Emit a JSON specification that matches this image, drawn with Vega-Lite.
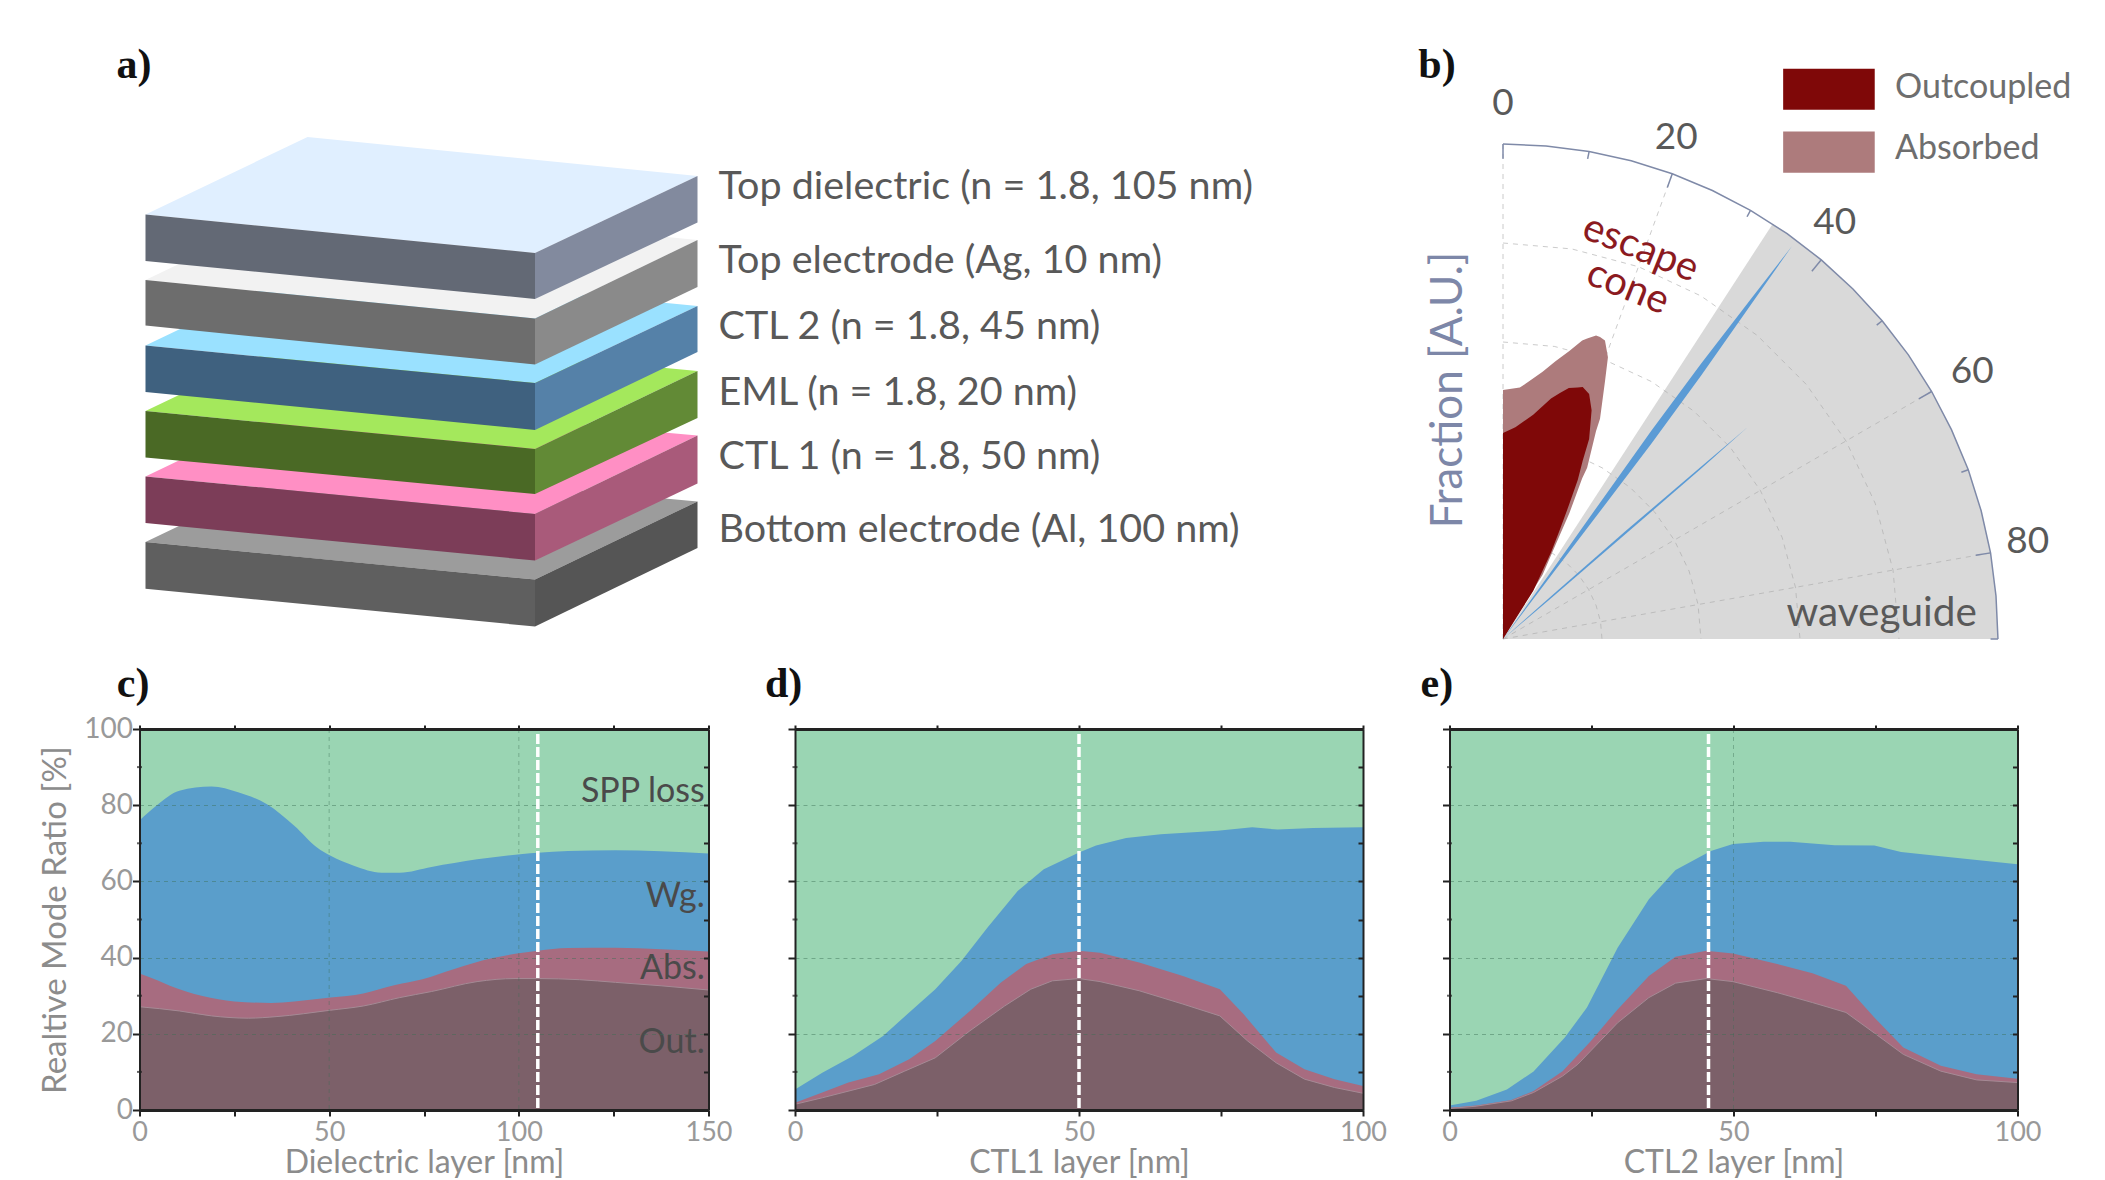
{
  "$schema": "https://vega.github.io/schema/vega-lite/v6.json",
  "background": "white",
  "padding": {"left": 39.5, "top": 0, "right": 0, "bottom": 0},
  "spacing": 3,
  "config": {"view": {"stroke": null}, "text": {"font": "Lato"}},
  "resolve": {"scale": {"color": "independent"}},
  "datasets": {
    "faces": [
      {"face":"bottom top","x":146,"upper":542,"lower":542},{"face":"bottom top","x":308,"upper":464.5,"lower":557.7},{"face":"bottom top","x":535.5,"upper":486.6,"lower":579.6},{"face":"bottom top","x":698,"upper":501.4,"lower":501.4},
      {"face":"bottom left","x":146,"upper":542,"lower":588.7},{"face":"bottom left","x":535.5,"upper":579.6,"lower":626.5},
      {"face":"bottom right","x":535.5,"upper":579.6,"lower":626.5},{"face":"bottom right","x":698,"upper":501.4,"lower":548},
      {"face":"ctl1 top","x":146,"upper":476.4,"lower":476.4},{"face":"ctl1 top","x":308,"upper":399,"lower":492},{"face":"ctl1 top","x":535.5,"upper":420.9,"lower":514},{"face":"ctl1 top","x":698,"upper":435.5,"lower":435.5},
      {"face":"ctl1 left","x":146,"upper":476.4,"lower":523},{"face":"ctl1 left","x":535.5,"upper":514,"lower":560.5},
      {"face":"ctl1 right","x":535.5,"upper":514,"lower":560.5},{"face":"ctl1 right","x":698,"upper":435.5,"lower":483.6},
      {"face":"eml top","x":146,"upper":411,"lower":411},{"face":"eml top","x":308,"upper":333.5,"lower":426.8},{"face":"eml top","x":535.5,"upper":355.7,"lower":449},{"face":"eml top","x":698,"upper":371,"lower":371},
      {"face":"eml left","x":146,"upper":411,"lower":457.4},{"face":"eml left","x":535.5,"upper":449,"lower":494},
      {"face":"eml right","x":535.5,"upper":449,"lower":494},{"face":"eml right","x":698,"upper":371,"lower":418},
      {"face":"ctl2 top","x":146,"upper":345.5,"lower":345.5},{"face":"ctl2 top","x":308,"upper":268,"lower":361.1},{"face":"ctl2 top","x":535.5,"upper":290.2,"lower":383},{"face":"ctl2 top","x":698,"upper":306,"lower":306},
      {"face":"ctl2 left","x":146,"upper":345.5,"lower":392},{"face":"ctl2 left","x":535.5,"upper":383,"lower":430},
      {"face":"ctl2 right","x":535.5,"upper":383,"lower":430},{"face":"ctl2 right","x":698,"upper":306,"lower":352},
      {"face":"electrode top","x":146,"upper":280,"lower":280},{"face":"electrode top","x":308,"upper":202.5,"lower":296},{"face":"electrode top","x":535.5,"upper":224.1,"lower":318.5},{"face":"electrode top","x":698,"upper":240,"lower":240},
      {"face":"electrode left","x":146,"upper":280,"lower":325.6},{"face":"electrode left","x":535.5,"upper":318.5,"lower":364.5},
      {"face":"electrode right","x":535.5,"upper":318.5,"lower":364.5},{"face":"electrode right","x":698,"upper":240,"lower":287},
      {"face":"dielectric top","x":146,"upper":214.5,"lower":214.5},{"face":"dielectric top","x":308,"upper":137,"lower":230.5},{"face":"dielectric top","x":535.5,"upper":159.8,"lower":253},{"face":"dielectric top","x":698,"upper":176,"lower":176},
      {"face":"dielectric left","x":146,"upper":214.5,"lower":261},{"face":"dielectric left","x":535.5,"upper":253,"lower":299},
      {"face":"dielectric right","x":535.5,"upper":253,"lower":299},{"face":"dielectric right","x":698,"upper":176,"lower":222.5}
    ],
    "stackLabels": [
      {"label":"Top dielectric (n = 1.8, 105 nm)","x":719,"y":187},
      {"label":"Top electrode (Ag, 10 nm)","x":719,"y":261},
      {"label":"CTL 2 (n = 1.8, 45 nm)","x":719,"y":327},
      {"label":"EML (n = 1.8, 20 nm)","x":719,"y":393},
      {"label":"CTL 1 (n = 1.8, 50 nm)","x":719,"y":457},
      {"label":"Bottom electrode (Al, 100 nm)","x":719,"y":530}
    ],
    "waveguide": [
      {"x":0,"y":0},{"x":0.545,"y":0.839},{"x":0.574,"y":0.819},{"x":0.643,"y":0.766},{"x":0.707,"y":0.707},{"x":0.766,"y":0.643},{"x":0.819,"y":0.574},{"x":0.866,"y":0.5},{"x":0.906,"y":0.423},{"x":0.94,"y":0.342},{"x":0.966,"y":0.259},{"x":0.985,"y":0.174},{"x":0.996,"y":0.087},{"x":1,"y":0}
    ],
    "rings": [
      {"r":0.2,"x":0,"y":0.2},{"r":0.2,"x":0.035,"y":0.197},{"r":0.2,"x":0.068,"y":0.188},{"r":0.2,"x":0.1,"y":0.173},{"r":0.2,"x":0.129,"y":0.153},{"r":0.2,"x":0.153,"y":0.129},{"r":0.2,"x":0.173,"y":0.1},{"r":0.2,"x":0.188,"y":0.068},{"r":0.2,"x":0.197,"y":0.035},{"r":0.2,"x":0.2,"y":0},
      {"r":0.4,"x":0,"y":0.4},{"r":0.4,"x":0.07,"y":0.394},{"r":0.4,"x":0.137,"y":0.376},{"r":0.4,"x":0.2,"y":0.346},{"r":0.4,"x":0.257,"y":0.306},{"r":0.4,"x":0.306,"y":0.257},{"r":0.4,"x":0.346,"y":0.2},{"r":0.4,"x":0.376,"y":0.137},{"r":0.4,"x":0.394,"y":0.07},{"r":0.4,"x":0.4,"y":0},
      {"r":0.6,"x":0,"y":0.6},{"r":0.6,"x":0.104,"y":0.591},{"r":0.6,"x":0.205,"y":0.564},{"r":0.6,"x":0.3,"y":0.52},{"r":0.6,"x":0.386,"y":0.46},{"r":0.6,"x":0.46,"y":0.386},{"r":0.6,"x":0.52,"y":0.3},{"r":0.6,"x":0.564,"y":0.205},{"r":0.6,"x":0.591,"y":0.104},{"r":0.6,"x":0.6,"y":0},
      {"r":0.8,"x":0,"y":0.8},{"r":0.8,"x":0.139,"y":0.788},{"r":0.8,"x":0.274,"y":0.752},{"r":0.8,"x":0.4,"y":0.693},{"r":0.8,"x":0.514,"y":0.613},{"r":0.8,"x":0.613,"y":0.514},{"r":0.8,"x":0.693,"y":0.4},{"r":0.8,"x":0.752,"y":0.274},{"r":0.8,"x":0.788,"y":0.139},{"r":0.8,"x":0.8,"y":0}
    ],
    "spokes": [
      {"x":0,"y":0,"x2":0,"y2":1},{"x":0,"y":0,"x2":0.342,"y2":0.94},{"x":0,"y":0,"x2":0.866,"y2":0.5},{"x":0,"y":0,"x2":0.985,"y2":0.174}
    ],
    "rim": [
      {"x":0,"y":1},{"x":0.087,"y":0.996},{"x":0.174,"y":0.985},{"x":0.259,"y":0.966},{"x":0.342,"y":0.94},{"x":0.423,"y":0.906},{"x":0.5,"y":0.866},{"x":0.574,"y":0.819},{"x":0.643,"y":0.766},{"x":0.707,"y":0.707},{"x":0.766,"y":0.643},{"x":0.819,"y":0.574},{"x":0.866,"y":0.5},{"x":0.906,"y":0.423},{"x":0.94,"y":0.342},{"x":0.966,"y":0.259},{"x":0.985,"y":0.174},{"x":0.996,"y":0.087},{"x":1,"y":0}
    ],
    "rimTicks": [
      {"x":0,"y":1,"x2":0,"y2":0.97},
      {"x":0.174,"y":0.985,"x2":0.171,"y2":0.97},
      {"x":0.342,"y":0.94,"x2":0.332,"y2":0.912},
      {"x":0.5,"y":0.866,"x2":0.493,"y2":0.853},
      {"x":0.643,"y":0.766,"x2":0.624,"y2":0.743},
      {"x":0.766,"y":0.643,"x2":0.755,"y2":0.634},
      {"x":0.866,"y":0.5,"x2":0.84,"y2":0.485},
      {"x":0.94,"y":0.342,"x2":0.926,"y2":0.337},
      {"x":0.985,"y":0.174,"x2":0.955,"y2":0.169},
      {"x":1,"y":0,"x2":0.985,"y2":0}
    ],
    "absorbed": [
      {"x":0,"upper":0.503,"lower":0},{"x":0.034,"upper":0.508,"lower":0.056},{"x":0.052,"upper":0.52,"lower":0.085},{"x":0.08,"upper":0.54,"lower":0.13},{"x":0.106,"upper":0.561,"lower":0.19},{"x":0.134,"upper":0.582,"lower":0.254},{"x":0.16,"upper":0.603,"lower":0.325},{"x":0.17,"upper":0.607,"lower":0.346},{"x":0.188,"upper":0.613,"lower":0.42},{"x":0.196,"upper":0.61,"lower":0.445},{"x":0.206,"upper":0.603,"lower":0.52},{"x":0.212,"upper":0.569,"lower":0.569}
    ],
    "outcoupled": [
      {"x":0,"upper":0.416,"lower":0},{"x":0.025,"upper":0.428,"lower":0.04},{"x":0.061,"upper":0.453,"lower":0.097},{"x":0.097,"upper":0.486,"lower":0.175},{"x":0.115,"upper":0.497,"lower":0.221},{"x":0.133,"upper":0.507,"lower":0.27},{"x":0.151,"upper":0.508,"lower":0.321},{"x":0.161,"upper":0.509,"lower":0.36},{"x":0.174,"upper":0.495,"lower":0.404},{"x":0.179,"upper":0.462,"lower":0.462}
    ],
    "modeBlue": [
      {"mode":"strong","x":0,"upper":0,"lower":0},{"mode":"strong","x":0.1,"upper":0.14,"lower":0.132},{"mode":"strong","x":0.2,"upper":0.281,"lower":0.263},{"mode":"strong","x":0.3,"upper":0.421,"lower":0.395},{"mode":"strong","x":0.4,"upper":0.556,"lower":0.532},{"mode":"strong","x":0.5,"upper":0.686,"lower":0.674},{"mode":"strong","x":0.584,"upper":0.794,"lower":0.794},
      {"mode":"weak","x":0,"upper":0,"lower":0},{"mode":"weak","x":0.1,"upper":0.089,"lower":0.085},{"mode":"weak","x":0.25,"upper":0.22,"lower":0.214},{"mode":"weak","x":0.4,"upper":0.348,"lower":0.344},{"mode":"weak","x":0.494,"upper":0.428,"lower":0.428}
    ],
    "legendBoxes": [
      {"part":"Outcoupled","x":0.566,"x2":0.751,"y":1.152,"y2":1.069},
      {"part":"Absorbed","x":0.566,"x2":0.751,"y":1.025,"y2":0.942}
    ],
    "legendLabels": [
      {"label":"Outcoupled","x":0.792,"y":1.114},
      {"label":"Absorbed","x":0.792,"y":0.99}
    ],
    "angleLabels": [
      {"label":"0","x":0,"y":1.081},{"label":"20","x":0.35,"y":1.013},{"label":"40","x":0.67,"y":0.841},{"label":"60","x":0.948,"y":0.54},{"label":"80","x":1.06,"y":0.196}
    ],
    "c": [
      {"series":"spp","thickness":0,"ratio":100},{"series":"spp","thickness":150,"ratio":100},
      {"series":"wg","thickness":0,"ratio":76},{"series":"wg","thickness":4.5,"ratio":79.9},{"series":"wg","thickness":10.5,"ratio":83.8},{"series":"wg","thickness":19,"ratio":84.9},{"series":"wg","thickness":26,"ratio":83.4},{"series":"wg","thickness":33.5,"ratio":80.3},{"series":"wg","thickness":40.8,"ratio":74.6},{"series":"wg","thickness":46.8,"ratio":68.9},{"series":"wg","thickness":50.4,"ratio":66.7},{"series":"wg","thickness":56.5,"ratio":64.1},{"series":"wg","thickness":63.8,"ratio":62.3},{"series":"wg","thickness":68.6,"ratio":62.3},{"series":"wg","thickness":77,"ratio":63.8},{"series":"wg","thickness":89,"ratio":65.8},{"series":"wg","thickness":101,"ratio":67.2},{"series":"wg","thickness":105,"ratio":67.5},{"series":"wg","thickness":113,"ratio":68},{"series":"wg","thickness":125.5,"ratio":68.2},{"series":"wg","thickness":137.5,"ratio":67.9},{"series":"wg","thickness":150,"ratio":67.3},
      {"series":"abs","thickness":0,"ratio":35.8},{"series":"abs","thickness":5,"ratio":33.9},{"series":"abs","thickness":8,"ratio":32.6},{"series":"abs","thickness":16.6,"ratio":29.9},{"series":"abs","thickness":25,"ratio":28.5},{"series":"abs","thickness":34.7,"ratio":28.1},{"series":"abs","thickness":40.8,"ratio":28.5},{"series":"abs","thickness":50.4,"ratio":29.5},{"series":"abs","thickness":59,"ratio":30.6},{"series":"abs","thickness":67.4,"ratio":32.8},{"series":"abs","thickness":74.6,"ratio":34.3},{"series":"abs","thickness":83,"ratio":37},{"series":"abs","thickness":92.8,"ratio":39.8},{"series":"abs","thickness":101,"ratio":41.3},{"series":"abs","thickness":105,"ratio":41.8},{"series":"abs","thickness":113,"ratio":42.5},{"series":"abs","thickness":125.5,"ratio":42.6},{"series":"abs","thickness":137.5,"ratio":42.2},{"series":"abs","thickness":150,"ratio":41.6},
      {"series":"out","thickness":0,"ratio":27.1},{"series":"out","thickness":10.5,"ratio":26},{"series":"out","thickness":19,"ratio":24.7},{"series":"out","thickness":28.7,"ratio":24.1},{"series":"out","thickness":36,"ratio":24.5},{"series":"out","thickness":50.4,"ratio":26.2},{"series":"out","thickness":59,"ratio":27.3},{"series":"out","thickness":68.6,"ratio":29.5},{"series":"out","thickness":77,"ratio":31.1},{"series":"out","thickness":89,"ratio":33.7},{"series":"out","thickness":99,"ratio":34.5},{"series":"out","thickness":105,"ratio":34.5},{"series":"out","thickness":116,"ratio":34.2},{"series":"out","thickness":125.5,"ratio":33.5},{"series":"out","thickness":137.5,"ratio":32.6},{"series":"out","thickness":150,"ratio":31.5}
    ],
    "d": [
      {"series":"spp","thickness":0,"ratio":100},{"series":"spp","thickness":100,"ratio":100},
      {"series":"wg","thickness":0,"ratio":5.4},{"series":"wg","thickness":4.8,"ratio":9.8},{"series":"wg","thickness":10.2,"ratio":14.2},{"series":"wg","thickness":15.5,"ratio":19.4},{"series":"wg","thickness":20.1,"ratio":25.6},{"series":"wg","thickness":24.7,"ratio":31.7},{"series":"wg","thickness":29.3,"ratio":39.1},{"series":"wg","thickness":33.9,"ratio":47.9},{"series":"wg","thickness":39.2,"ratio":57.5},{"series":"wg","thickness":43.8,"ratio":63.2},{"series":"wg","thickness":50,"ratio":67.6},{"series":"wg","thickness":53,"ratio":69.4},{"series":"wg","thickness":58.3,"ratio":71.4},{"series":"wg","thickness":64.4,"ratio":72.4},{"series":"wg","thickness":74.4,"ratio":73.3},{"series":"wg","thickness":80.5,"ratio":74.2},{"series":"wg","thickness":85,"ratio":73.6},{"series":"wg","thickness":91.2,"ratio":74},{"series":"wg","thickness":100,"ratio":74.2},
      {"series":"abs","thickness":0,"ratio":1.9},{"series":"abs","thickness":4.8,"ratio":4.6},{"series":"abs","thickness":9.4,"ratio":7.2},{"series":"abs","thickness":14.8,"ratio":9.4},{"series":"abs","thickness":20.1,"ratio":13.3},{"series":"abs","thickness":24.7,"ratio":18.1},{"series":"abs","thickness":30.8,"ratio":26},{"series":"abs","thickness":36.2,"ratio":33.4},{"series":"abs","thickness":40.7,"ratio":38.3},{"series":"abs","thickness":45.3,"ratio":40.9},{"series":"abs","thickness":50,"ratio":41.8},{"series":"abs","thickness":53.7,"ratio":41.3},{"series":"abs","thickness":60.6,"ratio":38.7},{"series":"abs","thickness":68.3,"ratio":35.2},{"series":"abs","thickness":74.8,"ratio":31.7},{"series":"abs","thickness":79,"ratio":25.1},{"series":"abs","thickness":84.7,"ratio":15.1},{"series":"abs","thickness":89.7,"ratio":10.7},{"series":"abs","thickness":95,"ratio":8.1},{"series":"abs","thickness":100,"ratio":6.3},
      {"series":"out","thickness":0,"ratio":1.5},{"series":"out","thickness":4.8,"ratio":3.2},{"series":"out","thickness":14,"ratio":6.7},{"series":"out","thickness":19.3,"ratio":10.2},{"series":"out","thickness":24.7,"ratio":13.7},{"series":"out","thickness":30.8,"ratio":20.8},{"series":"out","thickness":36.9,"ratio":27.3},{"series":"out","thickness":41.5,"ratio":31.7},{"series":"out","thickness":45.3,"ratio":33.9},{"series":"out","thickness":50,"ratio":34.5},{"series":"out","thickness":53.7,"ratio":33.7},{"series":"out","thickness":60.6,"ratio":31.3},{"series":"out","thickness":68.3,"ratio":27.8},{"series":"out","thickness":74.8,"ratio":24.7},{"series":"out","thickness":79.7,"ratio":18.1},{"series":"out","thickness":84.7,"ratio":12.4},{"series":"out","thickness":89.7,"ratio":8.1},{"series":"out","thickness":95,"ratio":5.9},{"series":"out","thickness":100,"ratio":4.4}
    ],
    "e": [
      {"series":"spp","thickness":0,"ratio":100},{"series":"spp","thickness":100,"ratio":100},
      {"series":"wg","thickness":0,"ratio":1.2},{"series":"wg","thickness":4.7,"ratio":2.4},{"series":"wg","thickness":10.1,"ratio":5.4},{"series":"wg","thickness":14.8,"ratio":10.1},{"series":"wg","thickness":20.3,"ratio":19},{"series":"wg","thickness":24.2,"ratio":26.9},{"series":"wg","thickness":29.6,"ratio":42.6},{"series":"wg","thickness":35.1,"ratio":55.3},{"series":"wg","thickness":39.8,"ratio":63},{"series":"wg","thickness":46,"ratio":68},{"series":"wg","thickness":49.9,"ratio":69.8},{"series":"wg","thickness":55.3,"ratio":70.4},{"series":"wg","thickness":60,"ratio":70.4},{"series":"wg","thickness":67.8,"ratio":69.5},{"series":"wg","thickness":74.8,"ratio":69.4},{"series":"wg","thickness":79.5,"ratio":67.7},{"series":"wg","thickness":86.5,"ratio":66.6},{"series":"wg","thickness":100,"ratio":64.5},
      {"series":"abs","thickness":0,"ratio":0.6},{"series":"abs","thickness":4.7,"ratio":1.2},{"series":"abs","thickness":10.9,"ratio":2.6},{"series":"abs","thickness":14.8,"ratio":5},{"series":"abs","thickness":19.9,"ratio":10.2},{"series":"abs","thickness":24.9,"ratio":18.1},{"series":"abs","thickness":29.6,"ratio":26.4},{"series":"abs","thickness":35.1,"ratio":35.2},{"series":"abs","thickness":39.8,"ratio":40.2},{"series":"abs","thickness":45.2,"ratio":41.8},{"series":"abs","thickness":49.9,"ratio":41.1},{"series":"abs","thickness":57.7,"ratio":38.3},{"series":"abs","thickness":63.9,"ratio":35.9},{"series":"abs","thickness":69.8,"ratio":32.6},{"series":"abs","thickness":74.8,"ratio":24.3},{"series":"abs","thickness":79.9,"ratio":16.4},{"series":"abs","thickness":86.5,"ratio":11.6},{"series":"abs","thickness":92.8,"ratio":9.4},{"series":"abs","thickness":100,"ratio":8.2},
      {"series":"out","thickness":0,"ratio":0.4},{"series":"out","thickness":4.7,"ratio":1},{"series":"out","thickness":10.9,"ratio":2.4},{"series":"out","thickness":14.8,"ratio":4.6},{"series":"out","thickness":19.9,"ratio":8.9},{"series":"out","thickness":22.6,"ratio":12},{"series":"out","thickness":29.6,"ratio":22.9},{"series":"out","thickness":35.1,"ratio":29.5},{"series":"out","thickness":39.8,"ratio":33.3},{"series":"out","thickness":45.2,"ratio":34.5},{"series":"out","thickness":49.9,"ratio":33.7},{"series":"out","thickness":57.7,"ratio":30.8},{"series":"out","thickness":63.9,"ratio":28.2},{"series":"out","thickness":69.8,"ratio":25.6},{"series":"out","thickness":74.8,"ratio":20.2},{"series":"out","thickness":79.9,"ratio":14.6},{"series":"out","thickness":86.5,"ratio":10.2},{"series":"out","thickness":92.8,"ratio":7.9},{"series":"out","thickness":100,"ratio":7.2}
    ],
    "cNotes": [
      {"label":"SPP loss","thickness":149,"ratio":83.4},{"label":"Wg.","thickness":149,"ratio":55.8},{"label":"Abs.","thickness":149,"ratio":37},{"label":"Out.","thickness":149,"ratio":17.7}
    ],
    "minorY": [{"ratio":10},{"ratio":30},{"ratio":50},{"ratio":70},{"ratio":90}]
  },
  "vconcat": [
    {
      "bounds": "flush",
      "spacing": 0,
      "resolve": {"scale": {"color": "independent"}},
      "hconcat": [
        {
          "width": 1260,
          "height": 660,
          "layer": [
            {
              "data": {"name": "faces"},
              "mark": {"type": "area"},
              "encoding": {
                "x": {"field": "x", "type": "quantitative", "scale": {"domain": [140, 1400], "nice": false, "zero": false}, "axis": null},
                "y": {"field": "upper", "type": "quantitative", "scale": {"domain": [660, 0], "nice": false, "zero": false}, "axis": null},
                "y2": {"field": "lower"},
                "color": {
                  "field": "face",
                  "type": "nominal",
                  "legend": null,
                  "scale": {
                    "domain": ["bottom top","bottom left","bottom right","ctl1 top","ctl1 left","ctl1 right","eml top","eml left","eml right","ctl2 top","ctl2 left","ctl2 right","electrode top","electrode left","electrode right","dielectric top","dielectric left","dielectric right"],
                    "range": ["#9c9c9c","#5f5f5f","#555555","#ff8fc4","#7c3d58","#a95a7a","#a4e85c","#4a6925","#628a36","#9ae1ff","#3f617f","#5581a8","#f2f2f2","#6d6d6d","#8a8a8a","#e0efff","#636975","#828a9e"]
                  }
                }
              }
            },
            {
              "data": {"name": "stackLabels"},
              "mark": {"type": "text", "align": "left", "baseline": "middle", "fontSize": 39.5, "color": "#595959"},
              "encoding": {
                "x": {"field": "x", "type": "quantitative"},
                "y": {"field": "y", "type": "quantitative"},
                "text": {"field": "label"}
              }
            },
            {
              "data": {"values": [{"label": "a)", "x": 117, "y": 65}]},
              "mark": {"type": "text", "align": "left", "baseline": "middle", "font": "Liberation Serif", "fontWeight": "bold", "fontSize": 42, "color": "#111111"},
              "encoding": {
                "x": {"field": "x", "type": "quantitative"},
                "y": {"field": "y", "type": "quantitative"},
                "text": {"field": "label"}
              }
            }
          ]
        },
        {
          "width": 705,
          "height": 660,
          "encoding": {
            "x": {"field": "x", "type": "quantitative", "scale": {"domain": [-0.2091, 1.2152], "nice": false, "zero": false}, "axis": null},
            "y": {"field": "y", "type": "quantitative", "scale": {"domain": [-0.0424, 1.2909], "nice": false, "zero": false}, "axis": null}
          },
          "layer": [
            {"data": {"name": "waveguide"}, "mark": {"type": "area", "color": "#d9d9d9"}},
            {"data": {"name": "rings"}, "mark": {"type": "line", "color": "#a9a9a9", "strokeWidth": 1, "strokeDash": [5, 5], "opacity": 0.6}, "encoding": {"detail": {"field": "r"}}},
            {"data": {"name": "spokes"}, "mark": {"type": "rule", "color": "#a9a9a9", "strokeWidth": 1, "strokeDash": [5, 5], "opacity": 0.6}, "encoding": {"x2": {"field": "x2"}, "y2": {"field": "y2"}}},
            {"data": {"name": "absorbed"}, "mark": {"type": "area", "color": "#ad7b7c"}, "encoding": {"y": {"field": "upper", "type": "quantitative"}, "y2": {"field": "lower"}}},
            {"data": {"name": "outcoupled"}, "mark": {"type": "area", "color": "#7f0808"}, "encoding": {"y": {"field": "upper", "type": "quantitative"}, "y2": {"field": "lower"}}},
            {"data": {"name": "modeBlue"}, "mark": {"type": "area", "color": "#5b9bd5"}, "encoding": {"y": {"field": "upper", "type": "quantitative"}, "y2": {"field": "lower"}, "detail": {"field": "mode"}}},
            {"data": {"name": "rim"}, "mark": {"type": "line", "color": "#7f8aa8", "strokeWidth": 1.5}},
            {"data": {"name": "rimTicks"}, "mark": {"type": "rule", "color": "#7f8aa8", "strokeWidth": 1.5}, "encoding": {"x2": {"field": "x2"}, "y2": {"field": "y2"}}},
            {"data": {"name": "legendBoxes"}, "mark": {"type": "rect"}, "encoding": {"x2": {"field": "x2"}, "y2": {"field": "y2"}, "color": {"field": "part", "type": "nominal", "legend": null, "scale": {"domain": ["Outcoupled", "Absorbed"], "range": ["#7f0808", "#ad7b7c"]}}}},
            {"data": {"name": "legendLabels"}, "mark": {"type": "text", "align": "left", "baseline": "middle", "fontSize": 34, "color": "#6e6e6e"}, "encoding": {"text": {"field": "label"}}},
            {"data": {"name": "angleLabels"}, "mark": {"type": "text", "align": "center", "baseline": "middle", "fontSize": 37, "color": "#595959"}, "encoding": {"text": {"field": "label"}}},
            {"data": {"values": [{"label": "waveguide", "x": 0.765, "y": 0.051}]}, "mark": {"type": "text", "align": "center", "baseline": "middle", "fontSize": 40.5, "color": "#595959"}, "encoding": {"text": {"field": "label"}}},
            {"data": {"values": [{"label": "escape", "x": 0.278, "y": 0.789}, {"label": "cone", "x": 0.252, "y": 0.71}]}, "mark": {"type": "text", "align": "center", "baseline": "middle", "fontSize": 40, "angle": 22, "color": "#8b1a1f"}, "encoding": {"text": {"field": "label"}}},
            {"data": {"values": [{"label": "Fraction [A.U.]", "x": -0.11, "y": 0.503}]}, "mark": {"type": "text", "align": "center", "baseline": "middle", "fontSize": 44, "angle": 270, "color": "#7d87a8"}, "encoding": {"text": {"field": "label"}}},
            {"data": {"values": [{"label": "b)", "x": -0.171, "y": 1.16}]}, "mark": {"type": "text", "align": "left", "baseline": "middle", "font": "Liberation Serif", "fontWeight": "bold", "fontSize": 42, "color": "#111111"}, "encoding": {"text": {"field": "label"}}}
          ]
        }
      ]
    },
    {
      "bounds": "flush",
      "spacing": 86.5,
      "hconcat": [
        {
          "width": 569,
          "height": 381,
          "title": {"text": "c)", "anchor": "start", "font": "Liberation Serif", "fontWeight": "bold", "fontSize": 42, "color": "#111111", "dx": 77, "offset": 9},
          "resolve": {"axis": {"x": "independent", "y": "independent"}},
          "layer": [
            {
              "data": {"name": "c"},
              "mark": {"type": "area", "interpolate": "monotone"},
              "encoding": {
                "x": {"field": "thickness", "type": "quantitative", "scale": {"domain": [0, 150], "nice": false}, "axis": {"orient": "bottom", "values": [0, 25, 50, 75, 100, 125, 150], "labelExpr": "datum.value % 50 === 0 ? datum.label : ''", "title": "Dielectric layer [nm]", "grid": false, "zindex": 1, "domainColor": "#222222", "domainWidth": 3, "tickColor": "#222222", "tickWidth": 2, "tickSize": 6, "labelFont": "Lato", "labelFontSize": 27, "labelColor": "#999999", "labelPadding": 3, "labelOverlap": false, "labelFlush": false, "titleFont": "Lato", "titleFontWeight": "normal", "titleFontSize": 32, "titleColor": "#8c8c8c", "titlePadding": 2}},
                "y": {"field": "ratio", "type": "quantitative", "stack": null, "scale": {"domain": [0, 100], "nice": false}, "axis": {"orient": "left", "values": [0, 20, 40, 60, 80, 100], "title": "Realtive Mode Ratio [%]", "grid": true, "gridColor": "#3c6e55", "gridDash": [4, 4], "gridOpacity": 0.45, "gridWidth": 1, "zindex": 1, "domainColor": "#222222", "domainWidth": 2, "tickColor": "#222222", "tickWidth": 2, "tickSize": 7, "labelFont": "Lato", "labelFontSize": 28, "labelColor": "#999999", "labelPadding": 0, "labelFlush": false, "titleFont": "Lato", "titleFontWeight": "normal", "titleFontSize": 33, "titleColor": "#8c8c8c", "titlePadding": 11}},
                "color": {"field": "series", "type": "nominal", "legend": null, "scale": {"domain": ["spp", "wg", "abs", "out"], "range": ["#9ad5b3", "#5a9ecb", "#a76c80", "#7c6069"]}}
              }
            },
            {
              "data": {"name": "c"},
              "transform": [{"filter": "datum.series === 'out'"}],
              "mark": {"type": "line", "interpolate": "monotone", "color": "#a58a95", "strokeWidth": 1},
              "encoding": {
                "x": {"field": "thickness", "type": "quantitative", "axis": {"orient": "top", "values": [0, 25, 50, 75, 100, 125, 150], "labels": false, "title": null, "grid": false, "zindex": 1, "domainColor": "#222222", "domainWidth": 3, "tickColor": "#222222", "tickWidth": 2, "tickSize": 4}},
                "y": {"field": "ratio", "type": "quantitative", "axis": {"orient": "right", "values": [0, 10, 20, 30, 40, 50, 60, 70, 80, 90, 100], "labels": false, "title": null, "grid": false, "zindex": 1, "domainColor": "#222222", "domainWidth": 2, "tickColor": "#222222", "tickWidth": 2, "tickSize": -5}}
              }
            },
            {
              "data": {"name": "minorY"},
              "mark": {"type": "tick", "orient": "horizontal", "color": "#222222", "thickness": 2, "size": 5},
              "encoding": {
                "y": {"field": "ratio", "type": "quantitative", "axis": null},
                "x": {"datum": 0, "type": "quantitative", "axis": null}
              }
            },
            {
              "data": {"values": [{"thickness": 50}, {"thickness": 100}]},
              "mark": {"type": "rule", "color": "#3c6e55", "strokeDash": [4, 4], "opacity": 0.4, "strokeWidth": 1},
              "encoding": {"x": {"field": "thickness", "type": "quantitative", "axis": null}}
            },
            {
              "data": {"values": [{"thickness": 105}]},
              "mark": {"type": "rule", "color": "white", "strokeWidth": 3.5, "strokeDash": [10, 3]},
              "encoding": {
                "x": {"field": "thickness", "type": "quantitative", "axis": null},
                "y": {"datum": 98.7, "type": "quantitative", "axis": null},
                "y2": {"datum": 0}
              }
            },
            {
              "data": {"name": "cNotes"},
              "mark": {"type": "text", "align": "right", "baseline": "middle", "fontSize": 34, "color": "#4a4a4a"},
              "encoding": {
                "x": {"field": "thickness", "type": "quantitative", "axis": null},
                "y": {"field": "ratio", "type": "quantitative", "axis": null},
                "text": {"field": "label"}
              }
            }
          ]
        },
        {
          "width": 568,
          "height": 381,
          "title": {"text": "d)", "anchor": "start", "font": "Liberation Serif", "fontWeight": "bold", "fontSize": 42, "color": "#111111", "dx": -22, "offset": 18},
          "resolve": {"axis": {"x": "independent", "y": "independent"}},
          "layer": [
            {
              "data": {"name": "d"},
              "mark": {"type": "area"},
              "encoding": {
                "x": {"field": "thickness", "type": "quantitative", "scale": {"domain": [0, 100], "nice": false}, "axis": {"orient": "bottom", "values": [0, 25, 50, 75, 100], "labelExpr": "datum.value % 50 === 0 ? datum.label : ''", "title": "CTL1 layer [nm]", "grid": false, "zindex": 1, "domainColor": "#222222", "domainWidth": 3, "tickColor": "#222222", "tickWidth": 2, "tickSize": 6, "labelFont": "Lato", "labelFontSize": 27, "labelColor": "#999999", "labelPadding": 3, "labelOverlap": false, "labelFlush": false, "titleFont": "Lato", "titleFontWeight": "normal", "titleFontSize": 32, "titleColor": "#8c8c8c", "titlePadding": 2}},
                "y": {"field": "ratio", "type": "quantitative", "stack": null, "scale": {"domain": [0, 100], "nice": false}, "axis": {"orient": "left", "values": [0, 20, 40, 60, 80, 100], "labels": false, "title": null, "grid": true, "gridColor": "#3c6e55", "gridDash": [4, 4], "gridOpacity": 0.45, "gridWidth": 1, "zindex": 1, "domainColor": "#222222", "domainWidth": 2, "tickColor": "#222222", "tickWidth": 2, "tickSize": 7}},
                "color": {"field": "series", "type": "nominal", "legend": null, "scale": {"domain": ["spp", "wg", "abs", "out"], "range": ["#9ad5b3", "#5a9ecb", "#a76c80", "#7c6069"]}}
              }
            },
            {
              "data": {"name": "d"},
              "transform": [{"filter": "datum.series === 'out'"}],
              "mark": {"type": "line", "color": "#a58a95", "strokeWidth": 1},
              "encoding": {
                "x": {"field": "thickness", "type": "quantitative", "axis": {"orient": "top", "values": [0, 25, 50, 75, 100], "labels": false, "title": null, "grid": false, "zindex": 1, "domainColor": "#222222", "domainWidth": 3, "tickColor": "#222222", "tickWidth": 2, "tickSize": 4}},
                "y": {"field": "ratio", "type": "quantitative", "axis": {"orient": "right", "values": [0, 10, 20, 30, 40, 50, 60, 70, 80, 90, 100], "labels": false, "title": null, "grid": false, "zindex": 1, "domainColor": "#222222", "domainWidth": 2, "tickColor": "#222222", "tickWidth": 2, "tickSize": -5}}
              }
            },
            {
              "data": {"name": "minorY"},
              "mark": {"type": "tick", "orient": "horizontal", "color": "#222222", "thickness": 2, "size": 5},
              "encoding": {
                "y": {"field": "ratio", "type": "quantitative", "axis": null},
                "x": {"datum": 0, "type": "quantitative", "axis": null}
              }
            },
            {
              "data": {"values": [{"thickness": 50}]},
              "mark": {"type": "rule", "color": "white", "strokeWidth": 3.5, "strokeDash": [10, 3]},
              "encoding": {
                "x": {"field": "thickness", "type": "quantitative", "axis": null},
                "y": {"datum": 98.7, "type": "quantitative", "axis": null},
                "y2": {"datum": 0}
              }
            }
          ]
        },
        {
          "width": 568,
          "height": 381,
          "title": {"text": "e)", "anchor": "start", "font": "Liberation Serif", "fontWeight": "bold", "fontSize": 42, "color": "#111111", "dx": -21, "offset": 18},
          "resolve": {"axis": {"x": "independent", "y": "independent"}},
          "layer": [
            {
              "data": {"name": "e"},
              "mark": {"type": "area"},
              "encoding": {
                "x": {"field": "thickness", "type": "quantitative", "scale": {"domain": [0, 100], "nice": false}, "axis": {"orient": "bottom", "values": [0, 25, 50, 75, 100], "labelExpr": "datum.value % 50 === 0 ? datum.label : ''", "title": "CTL2 layer [nm]", "grid": false, "zindex": 1, "domainColor": "#222222", "domainWidth": 3, "tickColor": "#222222", "tickWidth": 2, "tickSize": 6, "labelFont": "Lato", "labelFontSize": 27, "labelColor": "#999999", "labelPadding": 3, "labelOverlap": false, "labelFlush": false, "titleFont": "Lato", "titleFontWeight": "normal", "titleFontSize": 32, "titleColor": "#8c8c8c", "titlePadding": 2}},
                "y": {"field": "ratio", "type": "quantitative", "stack": null, "scale": {"domain": [0, 100], "nice": false}, "axis": {"orient": "left", "values": [0, 20, 40, 60, 80, 100], "labels": false, "title": null, "grid": true, "gridColor": "#3c6e55", "gridDash": [4, 4], "gridOpacity": 0.45, "gridWidth": 1, "zindex": 1, "domainColor": "#222222", "domainWidth": 2, "tickColor": "#222222", "tickWidth": 2, "tickSize": 7}},
                "color": {"field": "series", "type": "nominal", "legend": null, "scale": {"domain": ["spp", "wg", "abs", "out"], "range": ["#9ad5b3", "#5a9ecb", "#a76c80", "#7c6069"]}}
              }
            },
            {
              "data": {"name": "e"},
              "transform": [{"filter": "datum.series === 'out'"}],
              "mark": {"type": "line", "color": "#a58a95", "strokeWidth": 1},
              "encoding": {
                "x": {"field": "thickness", "type": "quantitative", "axis": {"orient": "top", "values": [0, 25, 50, 75, 100], "labels": false, "title": null, "grid": false, "zindex": 1, "domainColor": "#222222", "domainWidth": 3, "tickColor": "#222222", "tickWidth": 2, "tickSize": 4}},
                "y": {"field": "ratio", "type": "quantitative", "axis": {"orient": "right", "values": [0, 10, 20, 30, 40, 50, 60, 70, 80, 90, 100], "labels": false, "title": null, "grid": false, "zindex": 1, "domainColor": "#222222", "domainWidth": 2, "tickColor": "#222222", "tickWidth": 2, "tickSize": -5}}
              }
            },
            {
              "data": {"name": "minorY"},
              "mark": {"type": "tick", "orient": "horizontal", "color": "#222222", "thickness": 2, "size": 5},
              "encoding": {
                "y": {"field": "ratio", "type": "quantitative", "axis": null},
                "x": {"datum": 0, "type": "quantitative", "axis": null}
              }
            },
            {
              "data": {"values": [{"thickness": 50}]},
              "mark": {"type": "rule", "color": "#3c6e55", "strokeDash": [4, 4], "opacity": 0.4, "strokeWidth": 1},
              "encoding": {"x": {"field": "thickness", "type": "quantitative", "axis": null}}
            },
            {
              "data": {"values": [{"thickness": 45.6}]},
              "mark": {"type": "rule", "color": "white", "strokeWidth": 3.5, "strokeDash": [10, 3]},
              "encoding": {
                "x": {"field": "thickness", "type": "quantitative", "axis": null},
                "y": {"datum": 98.7, "type": "quantitative", "axis": null},
                "y2": {"datum": 0}
              }
            }
          ]
        }
      ]
    }
  ]
}
